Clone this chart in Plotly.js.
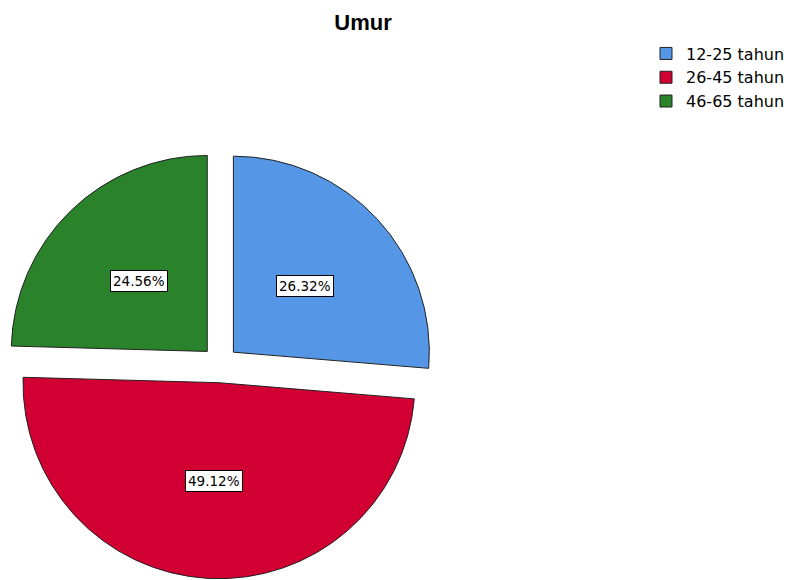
<!DOCTYPE html>
<html>
<head>
<meta charset="utf-8">
<script src="https://cdn.plot.ly/plotly-3.0.1.min.js"></script>
<style>html,body{margin:0;padding:0;background:#fff;}</style>
</head>
<body>
<div id="chart" style="width:790px;height:580px;"></div>
<script>
// Data
var categories = ['12-25 tahun', '26-45 tahun', '46-65 tahun'];
var counts = [15, 28, 14];
var colors = ['#5596E6', '#D20032', '#2A822A'];

var W = 790, H = 580;
var pull = 0.093;
var domX = [0.0073, 0.5496];
var domY = [0.0022, 0.7409];

var total = counts.reduce(function(a, b){ return a + b; }, 0);

// label annotations computed from the data
var wpx = (domX[1] - domX[0]) * W, hpx = (domY[1] - domY[0]) * H;
var r = Math.min(wpx, hpx) / (2 + 2 * pull);
var cx = (domX[0] + domX[1]) / 2 * W;
var cy = (1 - (domY[0] + domY[1]) / 2) * H;
var annotations = [];
var cum = 0;
counts.forEach(function(v, i){
  var frac = v / total;
  var mid = (cum + frac / 2) * 2 * Math.PI;
  cum += frac;
  var dx = Math.sin(mid), dy = -Math.cos(mid);
  var px = cx + (pull * r + 0.5 * r) * dx;
  var py = cy + (pull * r + 0.5 * r) * dy;
  annotations.push({
    x: px / W, y: 1 - py / H, xref: 'paper', yref: 'paper',
    text: (frac * 100).toFixed(2) + '%',
    showarrow: false,
    font: {family: 'DejaVu Sans, sans-serif', size: 13.5, color: '#000'},
    bgcolor: '#ffffff', bordercolor: '#000000', borderwidth: 1, borderpad: 2,
    xanchor: 'center', yanchor: 'middle'
  });
});

var trace = {
  type: 'pie',
  labels: categories,
  values: counts,
  sort: false,
  direction: 'clockwise',
  rotation: 0,
  pull: pull,
  marker: {colors: colors, line: {color: '#222222', width: 1}},
  textinfo: 'none',
  hoverinfo: 'label+percent',
  domain: {x: domX, y: domY}
};

var layout = {
  width: W, height: H,
  margin: {l: 0, r: 0, t: 0, b: 0},
  paper_bgcolor: '#ffffff',
  font: {family: 'Liberation Sans, Arial, sans-serif', color: '#000'},
  title: {
    text: '<b>Umur</b>',
    font: {family: 'Liberation Sans, Arial, sans-serif', size: 22, color: '#000'},
    x: 0.4595, xref: 'paper', xanchor: 'center',
    y: 0.962, yref: 'container', yanchor: 'middle'
  },
  showlegend: true,
  legend: {
    x: 0.818, y: 0.937, xanchor: 'left', yanchor: 'top',
    font: {family: 'DejaVu Sans, sans-serif', size: 16, color: '#000'},
    bgcolor: 'rgba(0,0,0,0)', itemwidth: 30, traceorder: 'normal'
  },
  annotations: annotations
};

Plotly.newPlot('chart', [trace], layout, {displayModeBar: false, staticPlot: true});
</script>
</body>
</html>
